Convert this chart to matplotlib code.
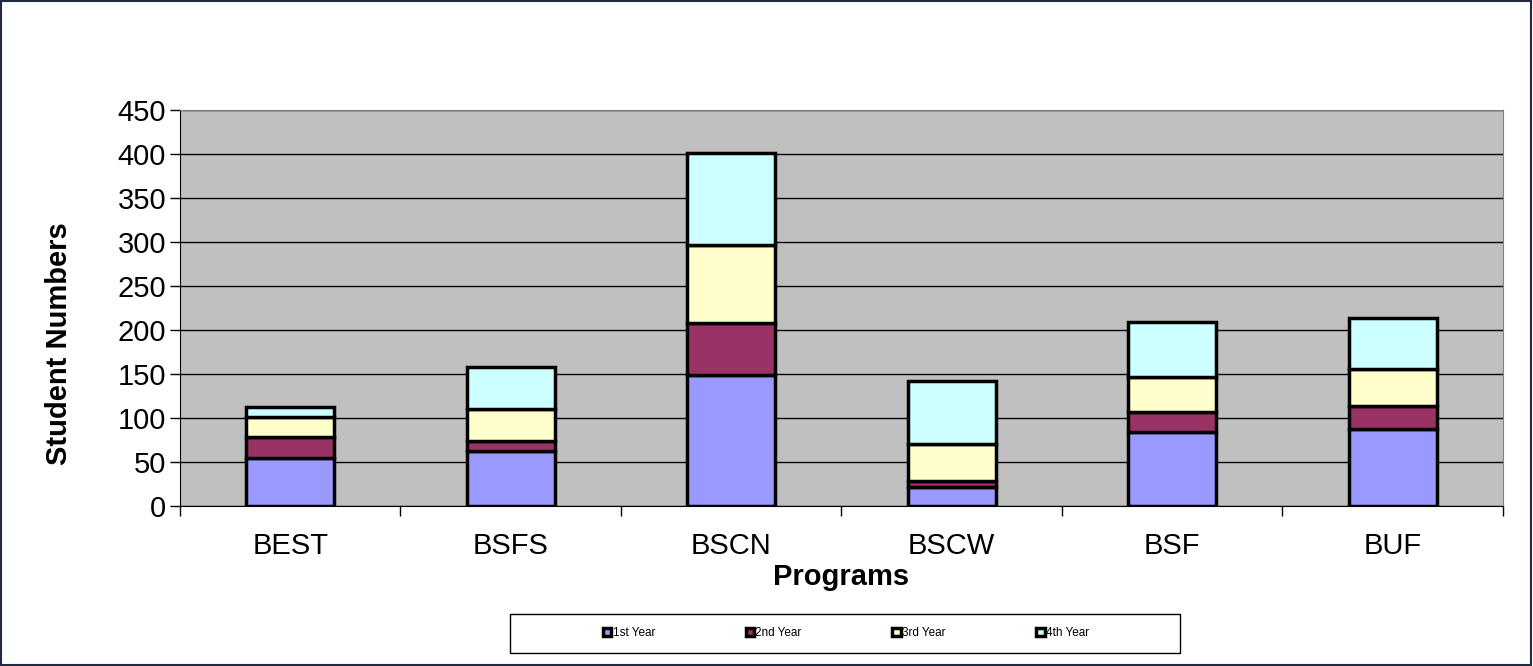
import numpy as np
import matplotlib
matplotlib.use("Agg")
from matplotlib import pyplot as plt
from matplotlib.patches import Rectangle

plt.rcParams['font.family'] = ['Liberation Sans', 'DejaVu Sans']

programs = ['BEST', 'BSFS', 'BSCN', 'BSCW', 'BSF', 'BUF']
year1 = [55, 63, 149, 22, 84, 88]
year2 = [23, 11, 59, 6, 23, 26]
year3 = [23, 36, 89, 42, 40, 42]
year4 = [11, 48, 104, 72, 62, 58]
series_names = ['1st Year', '2nd Year', '3rd Year', '4th Year']
colors = ['#9999FF', '#993366', '#FFFFCC', '#CCFFFF']

fig = plt.figure(figsize=(15.33, 6.66), dpi=100)
ax = fig.add_axes([0.1174, 0.2402, 0.9804 - 0.1174, 0.8348 - 0.2402])
ax.set_facecolor('#C0C0C0')

x = np.arange(len(programs))
bottom = np.zeros(len(programs))
handles = []
for vals, name, col in zip([year1, year2, year3, year4], series_names, colors):
    b = ax.bar(x, vals, 0.4, bottom=bottom, color=col, edgecolor='black',
               linewidth=2.5, label=name, zorder=3)
    bottom += np.array(vals)
    handles.append(b)

ax.set_ylim(0, 450)
ax.set_yticks(np.arange(0, 451, 50))
ax.set_xlim(-0.5, len(programs) - 0.5)
ax.yaxis.grid(True, color='black', linewidth=1, zorder=1)
ax.set_axisbelow(True)

# x ticks sit between categories, labels at centres
ax.set_xticks(np.arange(-0.5, len(programs), 1))
ax.set_xticks(x, minor=True)
ax.set_xticklabels([])
ax.set_xticklabels(programs, minor=True)
ax.tick_params(axis='x', which='minor', length=0, pad=19, labelsize=21)
ax.tick_params(axis='x', which='major', length=7, width=1, direction='out')
ax.tick_params(axis='y', length=7, width=1, direction='out', labelsize=21, pad=3)

for side in ['top', 'right']:
    ax.spines[side].set_color('#808080')
for side in ['left', 'bottom']:
    ax.spines[side].set_color('black')

ax.set_xlabel('Programs', fontsize=21, fontweight='bold', labelpad=2)
ax.set_ylabel('Student Numbers', fontsize=21, fontweight='bold')
ax.yaxis.set_label_coords(-0.081, 0.41)

# legend box
fig.patches.append(Rectangle((510 / 1533, 1 - 653 / 666), 670 / 1533, 39 / 666,
                             transform=fig.transFigure, facecolor='white',
                             edgecolor='black', linewidth=1))
leg = fig.legend(handles=handles, labels=series_names, loc='center',
                 bbox_to_anchor=(846 / 1533, 1 - 633 / 666), ncol=4, frameon=False,
                 fontsize=8.5, handlelength=0.7, handleheight=0.7,
                 handletextpad=0.1, columnspacing=7.7)

# outer border
fig.patches.append(Rectangle((0.0005, 0.001), 0.998, 0.997, transform=fig.transFigure,
                             fill=False, edgecolor='#1f2a44', linewidth=1.5))

fig.savefig('out.png', dpi=100)
